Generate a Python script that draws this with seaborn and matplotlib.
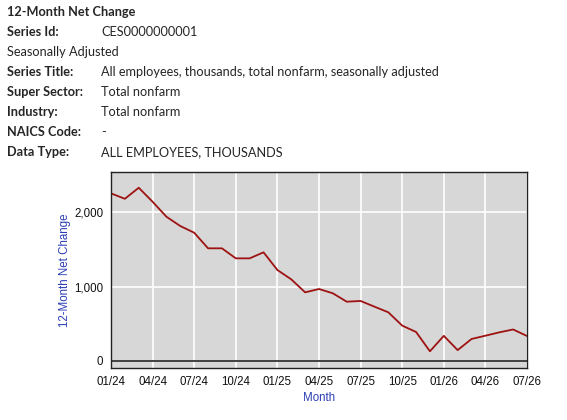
import numpy as np
import pandas as pd
import seaborn as sns
import matplotlib
matplotlib.use("Agg")
import matplotlib.pyplot as plt

# header block
title = "12-Month Net Change"
info_labels = ["Series Id:", None, "Series Title:", "Super Sector:", "Industry:", "NAICS Code:", "Data Type:"]
info_values = ["CES0000000001", "Seasonally Adjusted",
               "All employees, thousands, total nonfarm, seasonally adjusted",
               "Total nonfarm", "Total nonfarm", "-", "ALL EMPLOYEES, THOUSANDS"]

# monthly 12-month net change, 01/24 .. 07/26
months = ["01/24", "02/24", "03/24", "04/24", "05/24", "06/24", "07/24", "08/24",
          "09/24", "10/24", "11/24", "12/24", "01/25", "02/25", "03/25", "04/25",
          "05/25", "06/25", "07/25", "08/25", "09/25", "10/25", "11/25", "12/25",
          "01/26", "02/26", "03/26", "04/26", "05/26", "06/26", "07/26"]
net_change = [2257, 2184, 2333, 2144, 1942, 1817, 1727, 1517,
              1517, 1382, 1382, 1463, 1225, 1099, 924, 969,
              911, 798, 808, 731, 655, 476, 390, 130,
              338, 146, 296, 340, 385, 424, 336]
tick_months = ["01/24", "04/24", "07/24", "10/24", "01/25", "04/25", "07/25",
               "10/25", "01/26", "04/26", "07/26"]
y_ticks = [0, 1000, 2000]

df = pd.DataFrame({"month": months, "value": net_change})
df["pos"] = np.arange(len(df))

sns.set_style("white")
plt.rcParams["font.family"] = ["Liberation Sans", "DejaVu Sans"]

fig = plt.figure(figsize=(5.67, 4.2), dpi=100)

# text header
hdr_font = ["Lato", "DejaVu Sans"]
fig.text(7 / 567, 1 - 16 / 420, title, fontsize=9.2, fontweight="bold",
         family=hdr_font, va="baseline")
for i, (lab, val) in enumerate(zip(info_labels, info_values)):
    yb = 1 - (36 + 20 * i) / 420
    if lab is None:
        fig.text(7 / 567, yb, val, fontsize=9.2, family=hdr_font, va="baseline")
        continue
    fig.text(7 / 567, yb, lab, fontsize=9.2, fontweight="bold", family=hdr_font, va="baseline")
    fig.text(101 / 567, yb, val, fontsize=9.2, family=hdr_font, va="baseline")

# chart
ax = fig.add_axes([111 / 567, 1 - 368 / 420, 416 / 567, 196 / 420])
ax.set_facecolor("#d7d7d7")
sns.lineplot(data=df, x="pos", y="value", ax=ax, color="#9e1212", linewidth=1.3)

ax.set_xlim(0, len(months) - 1)
ax.set_ylim(-95, 2545)
ax.set_xticks([months.index(m) for m in tick_months])
ax.set_xticklabels(tick_months)
ax.set_yticks(y_ticks)
ax.set_yticklabels([f"{v:,}" for v in y_ticks])
ax.grid(True, color="white", linewidth=1.2)
ax.set_axisbelow(True)
ax.axhline(0, color="#222222", linewidth=1.2)

for s in ax.spines.values():
    s.set_color("#222222")
    s.set_linewidth(1.0)
ax.tick_params(axis="both", direction="out", length=4, width=0.8, color="#222222",
               labelsize=8.3, labelcolor="#111111", pad=1.5)

blue = "#2a3db5"
ax.set_xlabel("Month", fontsize=8.3, color=blue, labelpad=3)
ax.set_ylabel("12-Month Net Change", fontsize=8.3, color=blue)
ax.yaxis.set_label_coords(-40 / 416, 0.5)

fig.savefig("out.png", dpi=100)
